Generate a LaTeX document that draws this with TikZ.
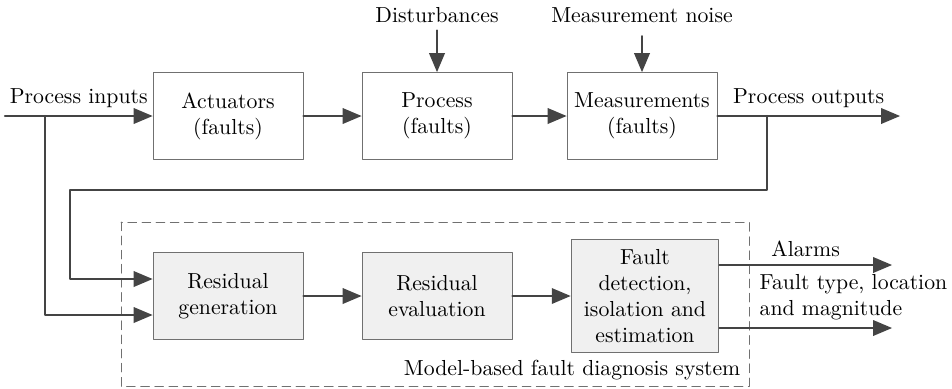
\documentclass[tikz,border=0pt]{standalone}
\usepackage{amsmath}
\usepackage[usenames, table, x11names]{xcolor}
\usepackage{tikz}
\usetikzlibrary{shapes,arrows}
\usetikzlibrary{calc}
\definecolor{linegray}{HTML}{444444}
\definecolor{boxgray}{HTML}{707070}
\definecolor{fillgray}{HTML}{F0F0F0}
\tikzset{
  blk/.style={draw=boxgray, fill=white, align=center, minimum width=69pt, minimum height=40pt, inner sep=0pt},
  rblk/.style={blk, fill=fillgray},
  sig/.style={->, color=linegray, line width=1pt}
}

\begin{document}
\begin{tikzpicture}[line cap=round,line join=round,>=triangle 45,x=0.46pt,y=-0.46pt]
	\useasboundingbox (0,0) rectangle (952,388);
	\draw[dashed, color=boxgray, dash pattern=on 4pt off 2.5pt] (121,222) rectangle (749,386);
	\node[blk] (act) at (228,116) {Actuators\\(faults)};
	\node[blk] (proc) at (437,116) {Process\\(faults)};
	\node[blk] (meas) at (642,116) {Measurements\\(faults)};
	\node[rblk] (rgen) at (228,296) {Residual\\generation};
	\node[rblk] (reval) at (437,296) {Residual\\evaluation};
	\node[rblk, minimum width=68pt, minimum height=52pt] (fdet) at (645,296) {Fault\\detection,\\isolation and\\estimation};
	\node (dist) at (437,15) {Disturbances};
	\node (noise) at (642,15) {Measurement noise};
	\node[anchor=east] (mbfd) at (748,370) {Model-based fault diagnosis system};
	\coordinate (pin) at (5,116);
	\coordinate (pout) at (900,116);
	\coordinate (b1) at (45,116);
	\coordinate (b2) at (767,116);
	\coordinate (alarm) at (892,265);
	\coordinate (ftype) at (892,328);
	\draw[sig] (pin) -- (act) node[midway, above, color=black] {Process inputs};
	\draw[sig] (act) -- (proc);
	\draw[sig] (proc) -- (meas);
	\draw[sig] (meas) -- (pout) node[midway, above, color=black] {Process outputs};
	\draw[sig] (dist) -- (proc);
	\draw[sig] (noise.south) ++(0,6) -- (meas);
	\draw[sig] (b1) |- ($(rgen.west)+(0,19)$);
	\draw[sig] (b2) |- (70,190) |- ($(rgen.west)+(0,-17)$);
	\draw[sig] (rgen) -- (reval);
	\draw[sig] (reval) -- (fdet);
	\draw[sig] (fdet.east |- alarm) -- (alarm) node[midway, above, color=black] {Alarms};
	\draw[sig] (fdet.east |- ftype) -- (ftype);
	\node[anchor=west, align=left] (ftlabel) at (752,297) {Fault type, location\\and magnitude};
\end{tikzpicture}
\end{document}
